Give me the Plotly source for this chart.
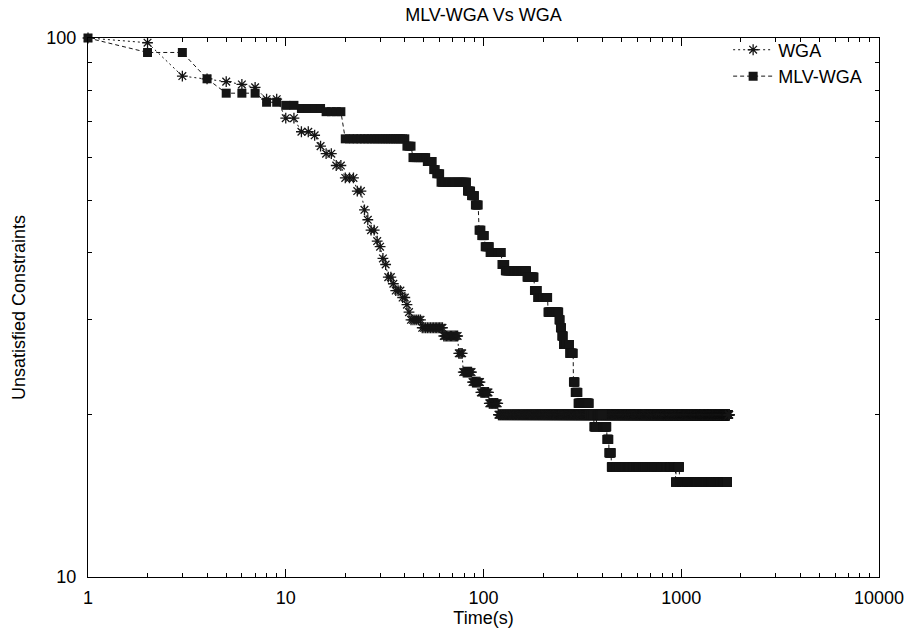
import plotly.graph_objects as go

# Step data: value held from each start second until the next start
wga_start = [1, 2, 3, 4, 5, 6, 7, 8, 10, 12, 14, 15, 16, 18, 20, 23, 25, 26, 27, 29, 30, 31, 32, 33,
             35, 36, 39, 41, 42, 43, 49, 63, 75, 79, 88, 97, 107, 119]
wga_level = [100, 98, 85, 84, 83, 82, 81, 77, 71, 67, 66, 63, 61, 58, 55, 52, 48, 46, 44, 42, 41, 39, 38, 36,
             35, 34, 33, 32, 31, 30, 29, 28, 26, 24, 23, 22, 21, 20]
wga_last = 1745

mlv_start = [1, 2, 4, 5, 8, 10, 12, 16, 20, 41, 44, 52, 56, 58, 61, 83, 87, 91, 95, 98, 102, 108, 124,
             129, 166, 181, 188, 212, 241, 245, 249, 254, 273, 285, 291, 301, 343, 362, 373, 400, 421,
             431, 443, 936, 941, 979]
mlv_level = [100, 94, 84, 79, 76, 75, 74, 73, 65, 63, 60, 59, 57, 56, 54, 52, 51, 49, 44, 43, 41, 40, 38,
             37, 36, 34, 33, 31, 30, 29, 28, 27, 26, 23, 22, 21, 20, 19, 20, 19, 18, 17, 16, 15, 16, 15]
mlv_last = 1712

x_tick_vals = [1, 10, 100, 1000, 10000]
x_tick_text = ["1", "10", "100", "1000", "10000"]
y_tick_vals = [10, 100]
y_tick_text = ["10", "100"]


def expand(starts, levels, last):
    t, v = [], []
    for i, (s, lv) in enumerate(zip(starts, levels)):
        e = starts[i + 1] if i + 1 < len(starts) else last + 1
        for k in range(s, e):
            t.append(k)
            v.append(lv)
    return t, v


wx, wy = expand(wga_start, wga_level, wga_last)
mx, my = expand(mlv_start, mlv_level, mlv_last)

FONT = "Liberation Sans, Arial, Helvetica, sans-serif"
INK = "#151515"
FS = 18

fig = go.Figure()
fig.add_trace(go.Scatter(
    x=wx, y=wy, name="WGA", mode="lines+markers", cliponaxis=False,
    line=dict(color=INK, width=1, dash="2px,3px"),
    marker=dict(symbol="asterisk-open", size=9, color=INK, line=dict(color=INK, width=1.3)),
))
fig.add_trace(go.Scatter(
    x=mx, y=my, name="MLV-WGA", mode="lines+markers", cliponaxis=False,
    line=dict(color=INK, width=1, dash="4px,3px"),
    marker=dict(symbol="square", size=9, color=INK, line=dict(width=0)),
))

minor_x = [m * 10 ** d for d in range(4) for m in range(2, 10)]
minor_y = [m * 10 for m in range(2, 10)]

axis_common = dict(
    showline=True, linecolor="black", linewidth=1, mirror="ticks",
    ticks="inside", ticklen=8, tickwidth=1, tickcolor="black",
    showgrid=False, zeroline=False,
    tickfont=dict(family=FONT, size=FS, color="black"),
)

fig.update_layout(
    width=916, height=635,
    margin=dict(l=88, r=33, t=38, b=58),
    paper_bgcolor="white", plot_bgcolor="white",
    font=dict(family=FONT, size=FS, color="black"),
    title=dict(text="MLV-WGA Vs WGA", x=0.5, xref="paper", xanchor="center", y=1 - 14.5 / 635,
               yanchor="middle", yref="container", font=dict(family=FONT, size=FS, color="black")),
    xaxis=dict(type="log", range=[0, 4], tickmode="array", tickvals=x_tick_vals, ticktext=x_tick_text,
               ticklabelstandoff=4,
               title=dict(text="Time(s)", font=dict(family=FONT, size=FS), standoff=3),
               minor=dict(tickmode="array", tickvals=minor_x, ticks="inside", ticklen=4,
                          tickcolor="black", showgrid=False),
               **axis_common),
    yaxis=dict(type="log", range=[1, 2], tickmode="array", tickvals=y_tick_vals, ticktext=y_tick_text,
               ticklabelstandoff=7,
               title=dict(text="Unsatisfied Constraints", font=dict(family=FONT, size=FS), standoff=16),
               minor=dict(tickmode="array", tickvals=minor_y, ticks="inside", ticklen=4,
                          tickcolor="black", showgrid=False),
               **axis_common),
    legend=dict(x=0.985, y=1.012, xanchor="right", yanchor="top", bgcolor="rgba(0,0,0,0)",
                font=dict(family=FONT, size=FS, color="black"), tracegroupgap=0, itemwidth=40),
    showlegend=True,
)

fig.write_html("out.html", config={"displayModeBar": False},
               post_script="document.body.style.margin='0';")
